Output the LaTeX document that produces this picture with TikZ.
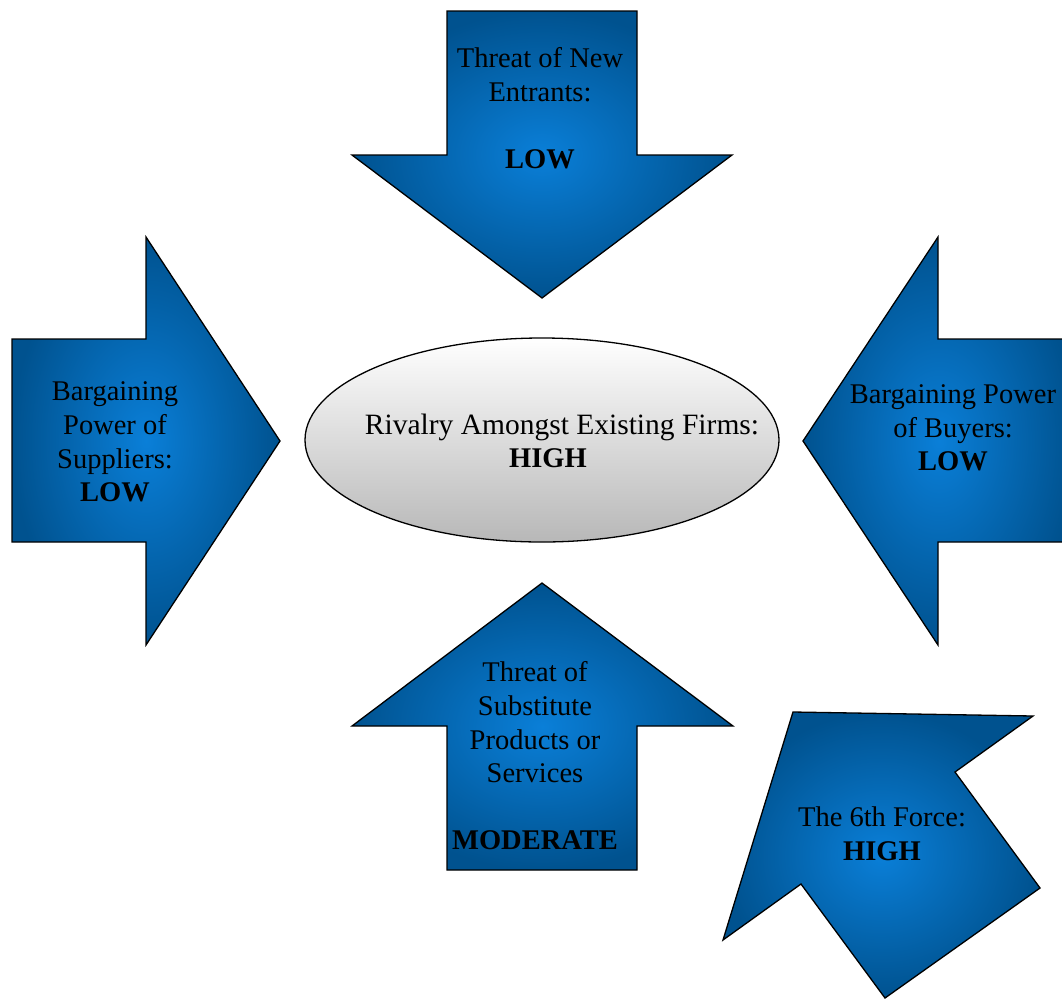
\documentclass[tikz,border=0pt]{standalone}
\usepackage{fontspec}
\setmainfont{Liberation Serif}
\usetikzlibrary{shapes.geometric}
\definecolor{bluein}{HTML}{0A7FD8}
\definecolor{blueout}{HTML}{00528F}
\tikzset{
  force/.style={draw=black, line width=1.3pt, line join=miter, shading=radial, inner color=bluein, outer color=blueout},
  lbl/.style={font=\fontsize{28.5}{33.6}\selectfont, align=center, inner sep=0pt, text=black},
  rival/.style={draw=black, line width=1.3pt, top color=white, bottom color=black!28}
}
\begin{document}
\begin{tikzpicture}[x=1pt,y=-1pt]
\useasboundingbox (0,0) rectangle (1062,999);
\clip (0,0) rectangle (1062,999);
% top arrow (new entrants)
\path[force] (447,11) -- (637,11) -- (637,155) -- (732,155) -- (542,298) -- (352,155) -- (447,155) -- cycle;
% left arrow (suppliers)
\path[force] (12,339) -- (146,339) -- (146,237) -- (280,441) -- (146,645) -- (146,542) -- (12,542) -- cycle;
% right arrow (buyers)
\path[force] (1075,339) -- (938,339) -- (938,237) -- (803,441) -- (938,645) -- (938,542) -- (1075,542) -- cycle;
% bottom arrow (substitutes)
\path[force] (447,870) -- (637,870) -- (637,726) -- (733,726) -- (542,583) -- (352,726) -- (447,726) -- cycle;
% sixth force arrow
\path[force] (793,712) -- (1033,716) -- (955,772) -- (1040,888) -- (885,998) -- (801,884) -- (723,940) -- cycle;
% central ellipse
\node[rival, ellipse, minimum width=474pt, minimum height=204pt, inner sep=0pt] (rivalry) at (542,440) {};
\node[lbl, font=\fontsize{29.5}{33.6}\selectfont] (rivalrytext) at (562,427) {Rivalry Amongst Existing Firms:};
\node[lbl] (rivalrylevel) at (548,458) {\textbf{HIGH}};
% labels
\node[lbl] (entrants) at (540,108) {Threat of New\\Entrants:\\[33.6pt]\textbf{LOW}};
\node[lbl] (suppliers) at (115,442) {Bargaining\\Power of\\Suppliers:\\\textbf{LOW}};
\node[lbl] (buyers) at (953,428) {Bargaining Power\\of Buyers:\\\textbf{LOW}};
\node[lbl] (substitutes) at (535,756) {Threat of\\Substitute\\Products or\\Services\\[33.6pt]\textbf{MODERATE}};
\node[lbl] (sixth) at (882,834) {The 6th Force:\\\textbf{HIGH}};
\end{tikzpicture}
\end{document}
